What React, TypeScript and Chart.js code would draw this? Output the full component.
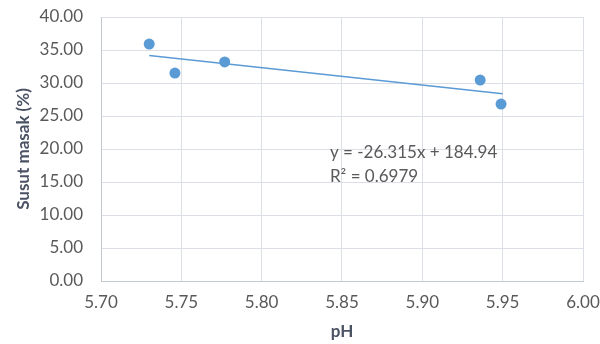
import React, { useEffect, useRef } from "react";
import { Chart, registerables } from "chart.js";

Chart.register(...registerables);

const phValues = [5.73, 5.746, 5.777, 5.936, 5.949];
const susutValues = [35.9, 31.5, 33.2, 30.45, 26.8];
const slope = -26.315;
const intercept = 184.94;
const trendX = [5.73, 5.95];
const equationText = "y = -26.315x + 184.94";
const r2Text = "R² = 0.6979";
const xTitle = "pH";
const yTitle = "Susut masak (%)";

const FONT = "Lato, 'Open Sans', sans-serif";
const GREY = "#595959";
const TITLE = "#4a5263";
const BLUE = "#5b9bd5";

export default function App() {
  const ref = useRef<HTMLCanvasElement>(null);
  useEffect(() => {
    document.body.style.margin = "0";
    const ctx = ref.current!.getContext("2d")!;
    const labelPlugin = {
      id: "eqLabel",
      afterDatasetsDraw(chart: any) {
        const c = chart.ctx;
        const xs = chart.scales.x;
        const ys = chart.scales.y;
        c.save();
        c.fillStyle = GREY;
        c.font = `17px ${FONT}`;
        c.textAlign = "left";
        c.textBaseline = "middle";
        c.fillText(equationText, xs.getPixelForValue(5.8425), ys.getPixelForValue(19.4));
        c.fillText(r2Text, xs.getPixelForValue(5.8425), ys.getPixelForValue(15.9));
        c.restore();
      },
    };
    const zeroPad = (s: any) => {
      s.paddingLeft = 0;
      s.paddingRight = 0;
      s.paddingTop = 0;
      s.paddingBottom = 0;
    };
    const chart = new Chart(ctx, {
      type: "scatter",
      data: {
        datasets: [
          {
            label: "data",
            data: phValues.map((x, i) => ({ x, y: susutValues[i] })),
            backgroundColor: BLUE,
            borderColor: BLUE,
            pointRadius: 5.5,
            pointHoverRadius: 5.5,
            borderWidth: 0,
          },
          {
            label: "trend",
            type: "line",
            data: trendX.map((x) => ({ x, y: slope * x + intercept })),
            borderColor: BLUE,
            borderWidth: 1.5,
            pointRadius: 0,
            fill: false,
          } as any,
        ],
      },
      options: {
        animation: false,
        responsive: false,
        events: [],
        layout: { padding: { top: 17, right: 17, left: 0, bottom: 0 } },
        plugins: { legend: { display: false }, tooltip: { enabled: false } },
        scales: {
          x: {
            type: "linear",
            min: 5.7,
            max: 6.0,
            afterFit: (s: any) => { s.height = 63; zeroPad(s); },
            ticks: {
              stepSize: 0.05,
              color: GREY,
              font: { family: FONT, size: 17 },
              padding: 11,
              callback: (v: any) => Number(v).toFixed(2),
            },
            grid: { color: "#dcdfe5", drawTicks: false, lineWidth: 1 },
            border: { color: "#c4c8d0" },
            title: {
              display: true,
              text: xTitle,
              color: TITLE,
              font: { family: FONT, size: 17, weight: "bold" },
              padding: { top: 0, bottom: 2 },
            },
          },
          y: {
            min: 0,
            max: 40,
            afterFit: (s: any) => { s.width = 101; zeroPad(s); },
            ticks: {
              stepSize: 5,
              color: GREY,
              font: { family: FONT, size: 17 },
              padding: 18,
              callback: (v: any) => Number(v).toFixed(2),
            },
            grid: { color: "#dcdfe5", drawTicks: false, lineWidth: 1 },
            border: { color: "#c4c8d0" },
            title: {
              display: true,
              text: yTitle,
              color: TITLE,
              font: { family: FONT, size: 17, weight: "bold" },
              padding: { top: 13, bottom: 0 },
            },
          },
        },
      },
      plugins: [labelPlugin],
    } as any);
    return () => chart.destroy();
  }, []);
  return (
    <div style={{ position: "fixed", left: 0, top: 0, width: 600, height: 344, background: "#fff" }}>
      <canvas ref={ref} width={600} height={344} style={{ width: 600, height: 344 }} />
    </div>
  );
}
